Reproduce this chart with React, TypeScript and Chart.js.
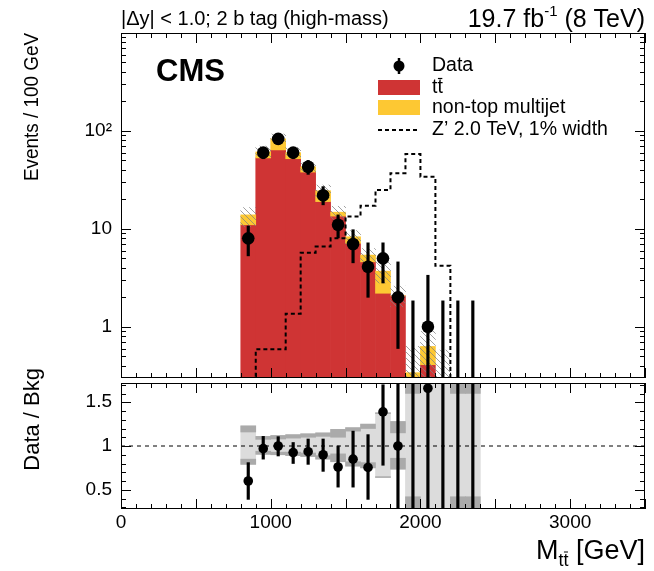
import React, { useEffect, useRef } from 'react';
import { Chart, registerables } from 'chart.js';

Chart.register(...registerables);

// ---------------- DATA ----------------
// Background histogram bins (100 GeV wide), given by bin centres
const binCenters = [850, 950, 1050, 1150, 1250, 1350, 1450, 1550, 1650, 1750, 1850, 1950, 2050, 2150];
const ttbar = [11, 53, 64, 52, 38, 19, 13.5, 7.1, 4.6, 2.2, 2.07, 0.31, 0.41, 0];
const multijet = [2.9, 8, 19, 8, 5, 5.5, 1.3, 1.2, 0.8, 1.5, 0, 0.03, 0.22, 0];
const uncLow = [10.5, 54, 74, 53, 38, 21, 12.5, 7, 4.5, 2.8, 1.6, 0, 0, 0];
const uncHigh = [16.5, 70, 93, 68, 49, 28, 17, 9.6, 6.3, 4.6, 2.6, 0.63, 0.9, 0.58];

// Z' signal, step histogram given at low bin edges
const zprimeEdges = [800, 900, 1000, 1100, 1200, 1300, 1400, 1500, 1600, 1700, 1800, 1900, 2000, 2100, 2200];
const zprime = [0, 0.59, 0.59, 1.36, 5.7, 6.6, 8.0, 13.4, 17.2, 25, 37, 58, 34, 4.2, 0];

// Data points
const dataCenters = [850, 950, 1050, 1150, 1250, 1350, 1450, 1550, 1650, 1750, 1850, 1950, 2050, 2150, 2250, 2350];
const dataValues = [8, 60, 83, 60, 43, 22, 11, 7, 4.1, 5, 2, 0, 1, 0, 0, 0];
const dataErrLow = [5.3, 52, 74, 52, 36, 17.6, 8.1, 4.5, 2.0, 2.8, 0.6, 0, 0, 0, 0, 0];
const dataErrHigh = [10.7, 68, 92, 68, 50, 27, 13.9, 9.8, 7.2, 7.2, 4.6, 1.84, 3.36, 1.84, 1.84, 1.84];

// Ratio panel
const ratioValues = [0.6, 0.97, 1.0, 0.925, 0.935, 0.9, 0.76, 0.85, 0.755, 1.39, 1.0, null, 1.66, null, null, null];
const ratioErrLow = [0.39, 0.85, 0.886, 0.8, 0.79, 0.71, 0.53, 0.53, 0.39, 0.78, 0, 0, 0, 0, 0, 0];
const ratioErrHigh = [0.81, 1.11, 1.107, 1.04, 1.08, 1.08, 1.0, 1.17, 1.13, 1.7, 3, 3, 3, 3, 3, 3];
const bandInnerLow = [0.85, 0.94, 0.93, 0.93, 0.92, 0.89, 0.91, 0.82, 0.81, 0.65, 0.86, 0.42, 0, 0, 0.42, 0.42];
const bandInnerHigh = [1.16, 1.076, 1.08, 1.09, 1.1, 1.11, 1.1, 1.17, 1.2, 1.37, 1.15, 1.6, 3, 3, 1.6, 1.6];
const bandOuterLow = [0.79, 0.905, 0.9, 0.89, 0.88, 0.85, 0.82, 0.77, 0.75, 0.64, 0.735, 0, 0, 0, 0, 0];
const bandOuterHigh = [1.23, 1.11, 1.12, 1.13, 1.14, 1.15, 1.19, 1.21, 1.25, 1.38, 1.28, 3, 3, 3, 3, 3];

const mainYTicks = [1, 10, 100];
const mainYLabels = ['1', '10', '10\u00B2'];
const ratioYTicks = [0.5, 1, 1.5];
const ratioYLabels = ['0.5', '1', '1.5'];
const xTickLabels = [0, 1000, 2000, 3000];

// ---------------- STYLE ----------------
const FONT = "'Liberation Sans', Arial, Helvetica, sans-serif";
const RED = '#cf3434';
const YELLOW = '#fdc833';
const LIGHT = '#dcdcdc';
const DARK = '#aaaaaa';
const W = 654;
const H = 571;
const LOG_FLOOR = 0.01; // below the log axis minimum: drawn off-panel and clipped

const fl = (v: number) => (v > 0 ? v : LOG_FLOOR);

function makeHatch(ctx: CanvasRenderingContext2D) {
  const c = document.createElement('canvas');
  c.width = 6;
  c.height = 6;
  const g = c.getContext('2d')!;
  g.strokeStyle = 'rgba(130,130,130,0.75)';
  g.lineWidth = 1;
  g.beginPath();
  g.moveTo(-1, -1); g.lineTo(7, 7);
  g.moveTo(-1, 5); g.lineTo(1, 7);
  g.moveTo(5, -1); g.lineTo(7, 1);
  g.stroke();
  return ctx.createPattern(c, 'repeat');
}

function drawFrame(chart: any, yTicks: { v: number; major: boolean }[]) {
  const { ctx, chartArea: a, scales } = chart;
  const xs = scales.x;
  const ys = scales.y;
  ctx.save();
  ctx.strokeStyle = '#000';
  ctx.lineWidth = 1;
  ctx.strokeRect(a.left + 0.5, a.top + 0.5, a.right - a.left - 1, a.bottom - a.top - 1);
  ctx.beginPath();
  for (let v = 0; v <= 3500; v += 100) {
    const px = Math.round(xs.getPixelForValue(v)) + 0.5;
    const len = v % 500 === 0 ? 10 : 5;
    ctx.moveTo(px, a.bottom);
    ctx.lineTo(px, a.bottom - len);
    ctx.moveTo(px, a.top);
    ctx.lineTo(px, a.top + len);
  }
  for (const t of yTicks) {
    const py = Math.round(ys.getPixelForValue(t.v)) + 0.5;
    if (py < a.top || py > a.bottom) continue;
    const len = t.major ? 10 : 5;
    ctx.moveTo(a.left, py);
    ctx.lineTo(a.left + len, py);
    ctx.moveTo(a.right, py);
    ctx.lineTo(a.right - len, py);
  }
  ctx.stroke();
  ctx.restore();
}

function logTicks() {
  const out: { v: number; major: boolean }[] = [];
  for (let e = -1; e <= 3; e++) {
    for (let k = 1; k <= 9; k++) {
      const v = k * Math.pow(10, e);
      if (v >= 0.3 && v <= 1000) out.push({ v, major: k === 1 });
    }
  }
  return out;
}

function ratioTicks() {
  const out: { v: number; major: boolean }[] = [];
  for (let i = 3; i <= 17; i++) out.push({ v: i / 10, major: i % 5 === 0 });
  return out;
}

const mainDecor = {
  id: 'mainDecor',
  afterDatasetsDraw(chart: any) {
    drawFrame(chart, logTicks());
  },
  afterDraw(chart: any) {
    const { ctx } = chart;
    ctx.save();
    ctx.fillStyle = '#000';
    ctx.textBaseline = 'alphabetic';
    // header left
    ctx.font = `20px ${FONT}`;
    ctx.textAlign = 'left';
    ctx.fillText('|\u0394y| < 1.0; 2 b tag (high-mass)', 121, 25);
    // header right
    ctx.font = `25px ${FONT}`;
    const s1 = '19.7 fb';
    const s2 = ' (8 TeV)';
    const w1 = ctx.measureText(s1).width;
    const w2 = ctx.measureText(s2).width;
    ctx.font = `15px ${FONT}`;
    const ws = ctx.measureText('-1').width;
    const x0 = 645 - (w1 + ws + w2);
    ctx.font = `25px ${FONT}`;
    ctx.fillText(s1, x0, 27);
    ctx.fillText(s2, x0 + w1 + ws, 27);
    ctx.font = `15px ${FONT}`;
    ctx.fillText('-1', x0 + w1, 16);
    // CMS
    ctx.font = `bold 31px ${FONT}`;
    ctx.fillText('CMS', 156, 81);
    // legend
    const lx0 = 378;
    const lx1 = 420;
    const tx = 432;
    ctx.font = `19.5px ${FONT}`;
    ctx.textBaseline = 'middle';
    // Data
    ctx.strokeStyle = '#000';
    ctx.lineWidth = 2.5;
    ctx.beginPath();
    ctx.moveTo(399, 58);
    ctx.lineTo(399, 74);
    ctx.stroke();
    ctx.beginPath();
    ctx.arc(399, 66, 5.5, 0, Math.PI * 2);
    ctx.fill();
    ctx.fillText('Data', tx, 66);
    // ttbar
    ctx.fillStyle = RED;
    ctx.fillRect(lx0, 80, lx1 - lx0, 15);
    ctx.fillStyle = '#000';
    ctx.textAlign = 'left';
    ctx.fillText('tt', tx, 88);
    const wt1 = ctx.measureText('t').width;
    const wtt = ctx.measureText('tt').width;
    ctx.lineWidth = 1.2;
    ctx.beginPath();
    ctx.moveTo(tx + wt1 + 0.5, 78.5);
    ctx.lineTo(tx + wtt - 0.5, 78.5);
    ctx.stroke();
    // multijet
    ctx.fillStyle = YELLOW;
    ctx.fillRect(lx0, 100, lx1 - lx0, 15);
    ctx.fillStyle = '#000';
    ctx.fillText('non-top multijet', tx, 108);
    // Z'
    ctx.lineWidth = 2;
    ctx.setLineDash([4, 3]);
    ctx.beginPath();
    ctx.moveTo(lx0, 130);
    ctx.lineTo(lx1, 130);
    ctx.stroke();
    ctx.setLineDash([]);
    ctx.fillText('Z\u2019 2.0 TeV, 1% width', tx, 130);
    // y title
    ctx.font = `21px ${FONT}`;
    ctx.translate(32, 33);
    ctx.rotate(-Math.PI / 2);
    ctx.textAlign = 'right';
    ctx.textBaseline = 'middle';
    ctx.fillText('Events / 100 GeV', 0, 0, 148);
    ctx.restore();
  },
};

const ratioDecor = {
  id: 'ratioDecor',
  afterDatasetsDraw(chart: any) {
    drawFrame(chart, ratioTicks());
  },
  afterDraw(chart: any) {
    const { ctx } = chart;
    ctx.save();
    ctx.fillStyle = '#000';
    ctx.strokeStyle = '#000';
    // y title
    ctx.font = `22px ${FONT}`;
    ctx.save();
    ctx.translate(33, 368);
    ctx.rotate(-Math.PI / 2);
    ctx.textAlign = 'right';
    ctx.textBaseline = 'middle';
    ctx.fillText('Data / Bkg', 0, 0);
    ctx.restore();
    // x title  M_tt̄ [GeV]
    ctx.textBaseline = 'alphabetic';
    ctx.textAlign = 'left';
    ctx.font = `27px ${FONT}`;
    const wm = ctx.measureText('M').width;
    const wr = ctx.measureText(' [GeV]').width;
    ctx.font = `18px ${FONT}`;
    const wt = ctx.measureText('tt').width;
    const wt1 = ctx.measureText('t').width;
    const x0 = 645 - (wm + wt + wr);
    const by = 559;
    ctx.font = `27px ${FONT}`;
    ctx.fillText('M', x0, by);
    ctx.fillText(' [GeV]', x0 + wm + wt, by);
    ctx.font = `18px ${FONT}`;
    ctx.fillText('tt', x0 + wm, by + 7);
    ctx.lineWidth = 1;
    ctx.beginPath();
    ctx.moveTo(x0 + wm + wt1 + 0.5, by - 7);
    ctx.lineTo(x0 + wm + wt - 0.5, by - 7);
    ctx.stroke();
    ctx.restore();
  },
};

export default function App() {
  const mainRef = useRef<HTMLCanvasElement>(null);
  const ratioRef = useRef<HTMLCanvasElement>(null);

  useEffect(() => {
    const mctx = mainRef.current!.getContext('2d')!;
    const hatch = makeHatch(mctx);

    const ttBars = binCenters.map((x, i) => ({ x, y: [LOG_FLOOR, fl(ttbar[i])] }));
    const mjBars = binCenters.map((x, i) => ({ x, y: [fl(ttbar[i]), fl(ttbar[i] + multijet[i])] }));
    const bandBars = binCenters.map((x, i) => ({ x, y: [fl(uncLow[i]), fl(uncHigh[i])] }));
    const zLine = zprimeEdges.map((x, i) => ({ x, y: fl(zprime[i]) }));
    const errBars = dataCenters.map((x, i) => ({ x, y: [fl(dataErrLow[i]), fl(dataErrHigh[i])] }));
    const pts = dataCenters
      .map((x, i) => (dataValues[i] > 0 ? { x, y: dataValues[i] } : null))
      .filter((p) => p !== null);

    const histCommon = {
      type: 'bar' as const,
      grouped: false,
      barPercentage: 1,
      categoryPercentage: 1,
      borderWidth: 0,
    };

    const main = new Chart(mctx, {
      type: 'bar',
      data: {
        datasets: [
          { ...histCommon, label: 'tt', data: ttBars as any, backgroundColor: RED, order: 10 },
          { ...histCommon, label: 'non-top multijet', data: mjBars as any, backgroundColor: YELLOW, order: 9 },
          { ...histCommon, label: 'uncertainty', data: bandBars as any, backgroundColor: hatch as any, order: 8 },
          {
            type: 'line',
            label: "Z' 2.0 TeV, 1% width",
            data: zLine as any,
            stepped: 'before',
            borderColor: '#000',
            borderWidth: 2,
            borderDash: [4, 3],
            pointRadius: 0,
            fill: false,
            order: 7,
          } as any,
          {
            type: 'bar',
            label: 'data errors',
            data: errBars as any,
            grouped: false,
            barThickness: 2.5,
            backgroundColor: '#000',
            borderWidth: 0,
            order: 6,
          } as any,
          {
            type: 'scatter',
            label: 'Data',
            data: pts as any,
            pointRadius: 6.3,
            pointBackgroundColor: '#000',
            pointBorderWidth: 0,
            order: 5,
          } as any,
        ],
      },
      options: {
        responsive: false,
        animation: false,
        devicePixelRatio: 1,
        layout: { padding: { left: 0, top: 33, right: 9, bottom: H - 378 } },
        plugins: { legend: { display: false }, tooltip: { enabled: false } },
        scales: {
          x: { type: 'linear', min: 0, max: 3500, offset: false, display: false },
          y: {
            type: 'logarithmic',
            min: 0.3,
            max: 1000,
            grid: { display: false, drawTicks: false },
            border: { display: false },
            afterBuildTicks: (s: any) => {
              s.ticks = mainYTicks.map((v) => ({ value: v }));
            },
            afterFit: (s: any) => {
              s.width = 121;
            },
            ticks: {
              padding: 9,
              color: '#000',
              font: { family: FONT, size: 19 },
              callback: (v: any) => {
                const i = mainYTicks.indexOf(Number(v));
                return i >= 0 ? mainYLabels[i] : '';
              },
            },
          },
        },
      } as any,
      plugins: [mainDecor],
    });

    const rctx = ratioRef.current!.getContext('2d')!;
    const lightBars = dataCenters.map((x, i) => ({ x, y: [bandOuterLow[i], bandOuterHigh[i]] }));
    const darkLowBars = dataCenters.map((x, i) => ({ x, y: [bandOuterLow[i], bandInnerLow[i]] }));
    const darkHighBars = dataCenters.map((x, i) => ({ x, y: [bandInnerHigh[i], bandOuterHigh[i]] }));
    const rErr = dataCenters.map((x, i) => ({ x, y: [ratioErrLow[i], ratioErrHigh[i]] }));
    const rPts = dataCenters
      .map((x, i) => (ratioValues[i] !== null ? { x, y: ratioValues[i] } : null))
      .filter((p) => p !== null);

    const ratio = new Chart(rctx, {
      type: 'bar',
      data: {
        datasets: [
          { ...histCommon, label: 'total unc.', data: lightBars as any, backgroundColor: LIGHT, order: 10 },
          { ...histCommon, label: 'unc. low', data: darkLowBars as any, backgroundColor: DARK, order: 9 },
          { ...histCommon, label: 'unc. high', data: darkHighBars as any, backgroundColor: DARK, order: 9 },
          {
            type: 'line',
            label: 'unity',
            data: [
              { x: 0, y: 1 },
              { x: 3500, y: 1 },
            ],
            borderColor: '#000',
            borderWidth: 1,
            borderDash: [4, 4],
            pointRadius: 0,
            order: 8,
          } as any,
          {
            type: 'bar',
            label: 'ratio errors',
            data: rErr as any,
            grouped: false,
            barThickness: 2.5,
            backgroundColor: '#000',
            borderWidth: 0,
            order: 6,
          } as any,
          {
            type: 'scatter',
            label: 'Data / Bkg',
            data: rPts as any,
            pointRadius: 4.8,
            pointBackgroundColor: '#000',
            pointBorderWidth: 0,
            order: 5,
          } as any,
        ],
      },
      options: {
        responsive: false,
        animation: false,
        devicePixelRatio: 1,
        layout: { padding: { left: 0, top: 383, right: 9, bottom: 0 } },
        plugins: { legend: { display: false }, tooltip: { enabled: false } },
        scales: {
          x: {
            type: 'linear',
            min: 0,
            max: 3500,
            offset: false,
            grid: { display: false, drawTicks: false },
            border: { display: false },
            afterBuildTicks: (s: any) => {
              s.ticks = xTickLabels.map((v) => ({ value: v }));
            },
            afterFit: (s: any) => {
              s.height = H - 509;
            },
            ticks: {
              padding: 2,
              color: '#000',
              maxRotation: 0,
              autoSkip: false,
              font: { family: FONT, size: 19 },
              callback: (v: any) => String(v),
            },
          },
          y: {
            type: 'linear',
            min: 0.28,
            max: 1.72,
            grid: { display: false, drawTicks: false },
            border: { display: false },
            afterBuildTicks: (s: any) => {
              s.ticks = ratioYTicks.map((v) => ({ value: v }));
            },
            afterFit: (s: any) => {
              s.width = 121;
            },
            ticks: {
              padding: 9,
              color: '#000',
              font: { family: FONT, size: 19 },
              callback: (v: any) => {
                const i = ratioYTicks.indexOf(Number(v));
                return i >= 0 ? ratioYLabels[i] : '';
              },
            },
          },
        },
      } as any,
      plugins: [ratioDecor],
    });

    return () => {
      main.destroy();
      ratio.destroy();
    };
  }, []);

  return (
    <div
      style={{
        position: 'fixed',
        left: 0,
        top: 0,
        width: W,
        height: H,
        background: '#fff',
        overflow: 'hidden',
      }}
    >
      <canvas ref={mainRef} width={W} height={H} style={{ position: 'absolute', left: 0, top: 0 }} />
      <canvas ref={ratioRef} width={W} height={H} style={{ position: 'absolute', left: 0, top: 0 }} />
    </div>
  );
}
